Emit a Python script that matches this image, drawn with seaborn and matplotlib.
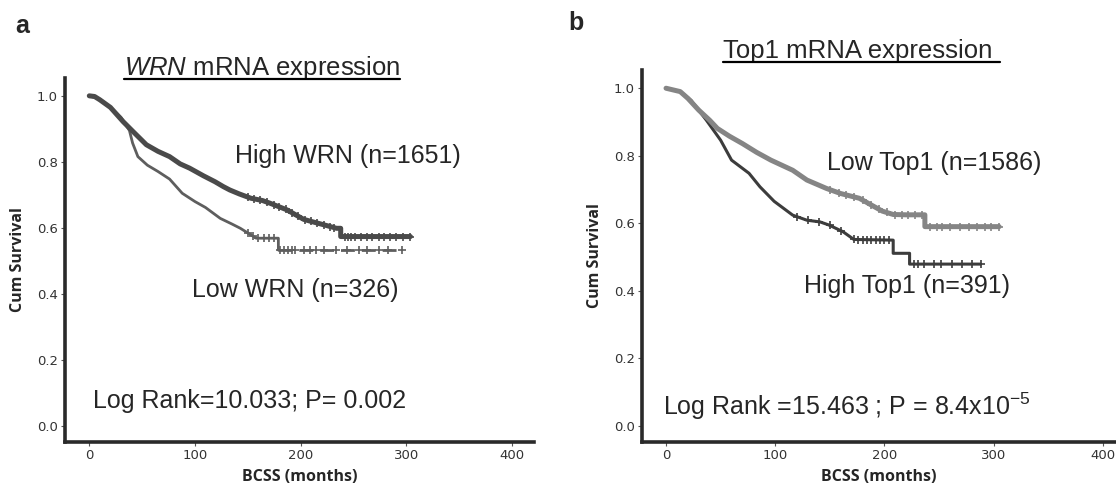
import numpy as np
import pandas as pd
import matplotlib
matplotlib.use("Agg")
import matplotlib.pyplot as plt
import seaborn as sns
from matplotlib.lines import Line2D

# survival curves (months, cumulative survival)
wrn_high_t = [0, 5, 10, 20, 32, 42, 54, 65, 76, 86, 95, 108, 119, 127, 133, 142, 153, 164, 171, 187, 203, 211, 225, 234, 238, 238, 304]
wrn_high_s = [1.0, 0.998, 0.988, 0.965, 0.922, 0.89, 0.852, 0.832, 0.816, 0.794, 0.781, 0.758, 0.740, 0.725, 0.715, 0.703, 0.690, 0.683, 0.675, 0.655, 0.626, 0.619, 0.607, 0.599, 0.599, 0.574, 0.574]
wrn_high_cens = [150, 156, 162, 168, 175, 180, 186, 192, 198, 204, 210, 216, 222, 228, 232,
                 242, 245, 248, 252, 257, 263, 268, 274, 279, 285, 290, 297, 304]

wrn_low_t = [0, 10, 20, 30, 38, 41, 46, 55, 65, 76, 88, 100, 110, 124, 135, 143, 150, 158, 179, 179, 296]
wrn_low_s = [1.0, 0.99, 0.965, 0.935, 0.895, 0.857, 0.816, 0.79, 0.771, 0.748, 0.705, 0.68, 0.662, 0.629, 0.612, 0.599, 0.585, 0.569, 0.569, 0.533, 0.533]
wrn_low_cens = [150, 155, 160, 165, 170, 175, 181, 184, 188, 192, 195, 203, 209, 215, 222, 234, 244, 255, 263, 274, 283, 296]

top1_low_t = [0, 13, 20, 30, 40, 47, 58, 70, 83, 96, 106, 116, 129, 147, 160, 177, 188, 198, 208, 220, 237, 237, 305]
top1_low_s = [1.0, 0.99, 0.97, 0.935, 0.905, 0.881, 0.858, 0.836, 0.81, 0.787, 0.772, 0.757, 0.728, 0.703, 0.688, 0.674, 0.654, 0.636, 0.626, 0.625, 0.625, 0.590, 0.590]
top1_low_cens = [150, 158, 165, 172, 180, 188, 195, 202, 210, 216, 222, 228, 234,
                 242, 248, 253, 260, 269, 277, 285, 292, 298, 305]

top1_high_t = [0, 13, 23, 37, 50, 60, 76, 86, 99, 116, 129, 141, 149, 162, 172, 208, 208, 223, 223, 288]
top1_high_s = [1.0, 0.99, 0.964, 0.905, 0.846, 0.787, 0.748, 0.708, 0.665, 0.624, 0.609, 0.604, 0.595, 0.575, 0.552, 0.550, 0.511, 0.511, 0.479, 0.479]
top1_high_cens = [120, 130, 140, 150, 160, 172, 176, 180, 184, 188, 192, 196, 200, 204,
                  227, 231, 236, 245, 252, 262, 271, 280, 288]

x_ticks = [0, 100, 200, 300, 400]
y_ticks = [0.0, 0.2, 0.4, 0.6, 0.8, 1.0]

sns.set_style("ticks")
plt.rcParams["font.family"] = ["Liberation Sans", "DejaVu Sans"]
plt.rcParams["mathtext.fontset"] = "custom"
plt.rcParams["mathtext.rm"] = "Liberation Sans"
plt.rcParams["mathtext.it"] = "Liberation Sans:italic"

W, H = 1116, 493
LABEL_FS = 18


def draw_km(ax, t, s, cens, color, lw, ms, dash_after=None):
    df = pd.DataFrame({"t": t, "s": s})
    if dash_after is None:
        sns.lineplot(data=df, x="t", y="s", sort=False, estimator=None, color=color, lw=lw, ax=ax)
    else:
        head = df.iloc[:dash_after + 1]
        tail = df.iloc[dash_after:]
        sns.lineplot(data=head, x="t", y="s", sort=False, estimator=None, color=color, lw=lw, ax=ax)
        sns.lineplot(data=tail, x="t", y="s", sort=False, estimator=None, color=color, lw=lw,
                     linestyle=(0, (5, 2.5)), ax=ax)
    cy = np.interp(cens, t, s)
    sns.scatterplot(x=cens, y=cy, marker="+", color=color, s=ms, linewidth=1.2, ax=ax)


def style_axes(ax, xmin, xmax):
    ax.set_xlim(xmin, xmax)
    ax.set_ylim(-0.048, 1.054)
    ax.set_xticks(x_ticks)
    ax.set_yticks(y_ticks)
    ax.set_yticklabels([f"{v:.1f}" for v in y_ticks])
    for side in ["top", "right"]:
        ax.spines[side].set_visible(False)
    for side in ["left", "bottom"]:
        ax.spines[side].set_linewidth(2.6)
        ax.spines[side].set_color("#2a2a2a")
    ax.tick_params(length=3, width=0.8, color="#555555", labelsize=9.5,
                   labelcolor="#333333", pad=2)
    for lab in ax.get_xticklabels() + ax.get_yticklabels():
        lab.set_fontfamily("DejaVu Sans")
    ax.set_xlabel("BCSS (months)", fontsize=11.5, fontweight="bold", fontfamily="Open Sans", labelpad=5)
    ax.set_ylabel("Cum Survival", fontsize=11.5, fontweight="bold", fontfamily="Open Sans", labelpad=8)


fig = plt.figure(figsize=(W / 100, H / 100), dpi=100)
ax1 = fig.add_axes([65 / W, 51 / H, 469 / W, 364 / H])
ax2 = fig.add_axes([642 / W, 51 / H, 474 / W, 372 / H])

# panel a
draw_km(ax1, wrn_low_t, wrn_low_s, wrn_low_cens, "#5e5e5e", 2.0, 32, dash_after=19)
draw_km(ax1, wrn_high_t, wrn_high_s, wrn_high_cens, "#4a4a4a", 3.6, 36)
style_axes(ax1, -23, 421)
ax1.text(137.6, 0.796, "High WRN (n=1651)", fontsize=LABEL_FS, va="baseline", ha="left")
ax1.text(96.8, 0.392, "Low WRN (n=326)", fontsize=LABEL_FS, va="baseline", ha="left")
ax1.text(3.4, 0.054, "Log Rank=10.033; P= 0.002", fontsize=LABEL_FS, va="baseline", ha="left")
t1 = ax1.text((123.7 - 65) / 469, 1.008, r"$\it{WRN}$ mRNA expression", transform=ax1.transAxes,
              fontsize=18.5, ha="left", va="baseline")

# panel b
draw_km(ax2, top1_high_t, top1_high_s, top1_high_cens, "#3c3c3c", 2.2, 32)
draw_km(ax2, top1_low_t, top1_low_s, top1_low_cens, "#858585", 3.6, 36)
style_axes(ax2, -22, 412)
ax2.text(147, 0.759, "Low Top1 (n=1586)", fontsize=LABEL_FS, va="baseline", ha="left")
ax2.text(126.3, 0.394, "High Top1 (n=391)", fontsize=LABEL_FS, va="baseline", ha="left")
ax2.text(-2.6, 0.033, r"Log Rank =15.463 ; P = 8.4x10$^{-5}$", fontsize=LABEL_FS, va="baseline", ha="left")
t2 = ax2.text((723 - 642) / 474, 1.032, "Top1 mRNA expression", transform=ax2.transAxes,
              fontsize=18.5, ha="left", va="baseline")

fig.text(15 / W, 1 - 33 / H, "a", fontsize=18, fontweight="bold")
fig.text(568 / W, 1 - 30 / H, "b", fontsize=18, fontweight="bold")

# underline the panel titles (b's line runs a little past the text)
fig.canvas.draw()
rend = fig.canvas.get_renderer()
for t, extra in ((t1, 0), (t2, 8)):
    bb = t.get_window_extent(rend)
    base = t.get_transform().transform(t.get_position())[1]
    y = (base - 4) / H
    fig.add_artist(Line2D([bb.x0 / W, (bb.x1 + extra) / W], [y, y], color="black", lw=1.6))

fig.savefig("out.png", dpi=100)
